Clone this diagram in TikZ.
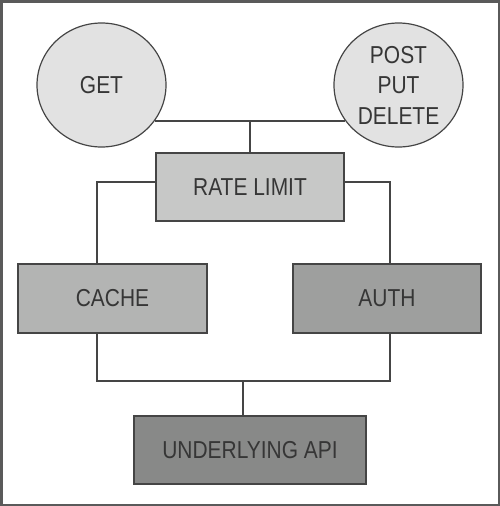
\documentclass[tikz,border=0pt]{standalone}
\usepackage{fontspec}
\setmainfont{Liberation Sans}[FakeStretch=0.855]
\usetikzlibrary{shapes.geometric}
\definecolor{frame}{HTML}{5A5A5A}
\definecolor{txt}{HTML}{363636}
\definecolor{edge}{HTML}{454545}
\definecolor{fcirc}{HTML}{E2E2E2}
\definecolor{frl}{HTML}{C7C8C7}
\definecolor{fcache}{HTML}{B3B4B3}
\definecolor{fauth}{HTML}{9E9F9E}
\definecolor{fapi}{HTML}{888988}
\tikzset{
  lbl/.style={text=txt, font=\fontsize{24.5}{30.5}\selectfont, align=center, inner sep=0pt},
  methodnode/.style={lbl, ellipse, draw=edge, line width=1.2pt, fill=fcirc, minimum width=129pt, minimum height=124pt},
  boxnode/.style={lbl, rectangle, draw=edge, line width=1.4pt},
  conn/.style={draw=edge, line width=1.2pt}
}
\begin{document}
\begin{tikzpicture}[x=1pt,y=-1pt]
\useasboundingbox (0,0) rectangle (500,506);
\draw[frame, line width=2.5pt] (1.25,1.25) rectangle (498.75,504.75);
\node[methodnode] (GET) at (101.5,85) {GET};
\node[methodnode] (POST) at (398.5,85) {POST\\PUT\\DELETE};
\node[boxnode, fill=frl, minimum width=188pt, minimum height=68pt] (RL) at (250,187) {RATE LIMIT};
\node[boxnode, fill=fcache, minimum width=189pt, minimum height=69pt] (CACHE) at (112.5,298.5) {CACHE};
\node[boxnode, fill=fauth, minimum width=188pt, minimum height=69pt] (AUTH) at (387,298.5) {AUTH};
\node[boxnode, fill=fapi, minimum width=232pt, minimum height=68pt] (API) at (250,450) {UNDERLYING API};
\coordinate (j1) at (250,121);
\coordinate (j2) at (243,381);
\draw[conn] (GET.-34.4) -- (POST.214.4);
\draw[conn] (j1) -- (RL.north);
\draw[conn] ([yshift=5pt]RL.west) -| ([xshift=-15.5pt]CACHE.north);
\draw[conn] ([yshift=5pt]RL.east) -| ([xshift=3pt]AUTH.north);
\draw[conn] ([xshift=-15.5pt]CACHE.south) |- (j2) -| ([xshift=3pt]AUTH.south);
\draw[conn] (j2) -- (j2 |- API.north);
\end{tikzpicture}
\end{document}
